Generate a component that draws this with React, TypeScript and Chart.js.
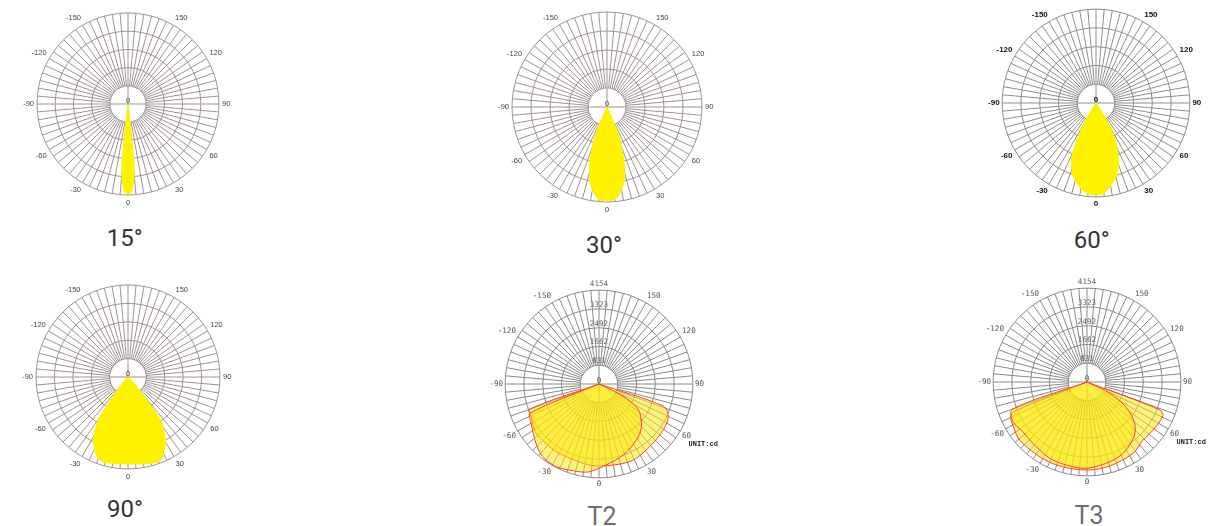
import React, { useEffect, useRef } from 'react';
import { Chart, registerables } from 'chart.js';

Chart.register(...registerables);

// ---------------- data ----------------
const PANEL_TITLES = ['15°', '30°', '60°', '90°', 'T2', 'T3'];

// angle tick labels (one category per degree, 180 at top, clockwise)
const ANGLE_LABELS: number[] = Array.from({ length: 360 }, (_, i) => 180 - i);
const LABELED_ANGLES = [0, 30, 60, 90, 120, 150, -150, -120, -90, -60, -30];
const RING_COUNT = 5;
const BEAM_MAX = 100; // relative intensity, %
const T_MAX_CD = 4154; // cd
const UNIT_TEXT = 'UNIT:cd';

const BEAM15_ANGLES = [-7, -6, -5, -4, -3, -2, -1, 0, 1, 2, 3, 4, 5, 6, 7];
const BEAM15_VALUES = [0, 57, 77, 87, 93, 97, 98.5, 99, 98.5, 97, 93, 87, 77, 57, 0];

const BEAM30_ANGLES = [-25, -23, -20, -17, -13, -9, -5, 0, 5, 9, 13, 17, 20, 23, 25];
const BEAM30_VALUES = [0, 28, 45, 62, 80, 90.5, 97.5, 99, 97.5, 90.5, 80, 62, 45, 28, 0];

const BEAM60_ANGLES = [-34, -31, -28, -26, -23, -17, -10, -5, 0, 4, 8, 15, 21, 25, 29, 32, 34];
const BEAM60_VALUES = [0, 25, 39, 53, 67, 82, 92.5, 97, 98, 97, 92.5, 82, 67, 53, 39, 25, 0];

const BEAM90_ANGLES = [-44, -41, -38, -36, -35, -33, -30, -27, -23, -19, -14, -8, 0, 8, 15, 21, 25, 29, 32, 35, 37, 38, 40, 43, 46];
const BEAM90_VALUES = [0, 10, 26, 42, 55, 64, 74, 82, 90, 95, 96, 95, 94.5, 95.5, 97, 97.5, 91, 84, 76, 66, 60, 48, 30, 13, 0];

const T2_A_ANGLES = [68, 63, 57, 45, 34, 19, 5, -6, -12, -27, -38, -47, -60, -67, -70];
const T2_A_CD = [0, 1199, 2075, 2657, 2977, 3318, 3599, 3900, 3972, 4118, 4064, 3824, 3470, 3313, 0];
const T2_B_ANGLES = [73, 71, 65, 55, 39, 22, 0, -11, -32, -52, -64, -70, -72];
const T2_B_CD = [0, 3012, 3385, 3493, 3568, 3696, 3630, 3581, 3541, 3536, 3332, 3274, 0];

const T3_A_ANGLES = [68, 64, 57, 49, 41, 27, 13, -3, -24, -42, -52, -62, -70, -72];
const T3_A_CD = [0, 1120, 2094, 2794, 3181, 3536, 3700, 3825, 3767, 3620, 3590, 3723, 3510, 0];
const T3_B_ANGLES = [72, 69, 66, 54, 44, 33, 15, 0, -18, -32, -49, -59, -65, -68, -71];
const T3_B_CD = [0, 3455, 3676, 3618, 3572, 3758, 3852, 3896, 3911, 3914, 3937, 3807, 3723, 3500, 0];

// ---------------- styles / layout ----------------
type Style = {
  family: string; size: number; weight: string; color: string; grid: string; pad: number;
};
const THIN: Style = { family: 'Liberation Sans', size: 7.5, weight: 'normal', color: '#444', grid: '#a09292', pad: 3 };
const BOLD: Style = { family: 'Liberation Sans', size: 8, weight: 'bold', color: '#111', grid: '#8e8e8e', pad: 2.5 };
const MONO: Style = { family: 'DejaVu Sans Mono', size: 7.6, weight: 'normal', color: '#555', grid: '#8a8a8a', pad: 2 };

const BEAM_FILL = '#fff100';
const T_FILL = 'rgba(255,232,0,0.5)';
const T_BORDER = 'rgba(255,45,45,0.9)';
const TOP_EXTRA = 14; // extra canvas room above the chart area for ring labels

type Series = { angles: number[]; values: number[] };
type Panel = {
  title: string; cx: number; cy: number; R: number; style: Style; max: number;
  series: Series[]; fill: string; border: string; borderWidth: number; tension: number;
  ringLabels: boolean; unit: string | null;
  tx: number; ty: number; tSize: number; tColor: string;
};

const PANELS: Panel[] = [
  { title: PANEL_TITLES[0], cx: 127.8, cy: 103.8, R: 91, style: THIN, max: BEAM_MAX,
    series: [{ angles: BEAM15_ANGLES, values: BEAM15_VALUES }], fill: BEAM_FILL, border: BEAM_FILL, borderWidth: 1, tension: 0.3,
    ringLabels: false, unit: null, tx: 124.7, ty: 238, tSize: 24, tColor: '#333' },
  { title: PANEL_TITLES[1], cx: 606.7, cy: 107.3, R: 95, style: THIN, max: BEAM_MAX,
    series: [{ angles: BEAM30_ANGLES, values: BEAM30_VALUES }], fill: BEAM_FILL, border: BEAM_FILL, borderWidth: 1, tension: 0.3,
    ringLabels: false, unit: null, tx: 604, ty: 244.5, tSize: 24, tColor: '#333' },
  { title: PANEL_TITLES[2], cx: 1095.7, cy: 103.3, R: 93.8, style: BOLD, max: BEAM_MAX,
    series: [{ angles: BEAM60_ANGLES, values: BEAM60_VALUES }], fill: BEAM_FILL, border: BEAM_FILL, borderWidth: 1, tension: 0.3,
    ringLabels: false, unit: null, tx: 1091.7, ty: 239.2, tSize: 24, tColor: '#333' },
  { title: PANEL_TITLES[3], cx: 127.5, cy: 377.3, R: 92, style: THIN, max: BEAM_MAX,
    series: [{ angles: BEAM90_ANGLES, values: BEAM90_VALUES }], fill: BEAM_FILL, border: BEAM_FILL, borderWidth: 1, tension: 0.3,
    ringLabels: false, unit: null, tx: 125, ty: 509, tSize: 24, tColor: '#333' },
  { title: PANEL_TITLES[4], cx: 599.3, cy: 384.3, R: 93.5, style: MONO, max: T_MAX_CD,
    series: [{ angles: T2_A_ANGLES, values: T2_A_CD }, { angles: T2_B_ANGLES, values: T2_B_CD }],
    fill: T_FILL, border: T_BORDER, borderWidth: 1, tension: 0.3,
    ringLabels: true, unit: UNIT_TEXT, tx: 602, ty: 516, tSize: 25, tColor: '#6e6e6e' },
  { title: PANEL_TITLES[5], cx: 1087.3, cy: 382, R: 93.5, style: MONO, max: T_MAX_CD,
    series: [{ angles: T3_A_ANGLES, values: T3_A_CD }, { angles: T3_B_ANGLES, values: T3_B_CD }],
    fill: T_FILL, border: T_BORDER, borderWidth: 1, tension: 0.3,
    ringLabels: true, unit: UNIT_TEXT, tx: 1089, ty: 515, tSize: 25, tColor: '#6e6e6e' },
];

function toRadar(angles: number[], values: number[]): (number | null)[] {
  const arr: (number | null)[] = new Array(ANGLE_LABELS.length).fill(null);
  angles.forEach((a, k) => {
    const idx = (((180 - a) % 360) + 360) % 360;
    arr[idx] = values[k];
  });
  return arr;
}

const polarDecor = {
  id: 'polarDecor',
  beforeDatasetsDraw(chart: any, _args: any, o: any) {
    const s = chart.scales.r;
    const ctx = chart.ctx;
    const r1 = s.getDistanceFromCenterForValue(s.ticks[1].value);
    ctx.save();
    ctx.beginPath();
    ctx.arc(s.xCenter, s.yCenter, r1 - 0.6, 0, Math.PI * 2);
    ctx.fillStyle = '#ffffff';
    ctx.fill();
    ctx.strokeStyle = o.grid;
    ctx.lineWidth = 1;
    ctx.beginPath();
    ctx.moveTo(s.xCenter - r1, s.yCenter);
    ctx.lineTo(s.xCenter + r1, s.yCenter);
    ctx.moveTo(s.xCenter, s.yCenter - r1);
    ctx.lineTo(s.xCenter, s.yCenter + r1);
    ctx.stroke();
    ctx.restore();
  },
  afterDatasetsDraw(chart: any, _args: any, o: any) {
    const s = chart.scales.r;
    const ctx = chart.ctx;
    ctx.save();
    ctx.font = o.font;
    ctx.fillStyle = o.color;
    ctx.textAlign = 'center';
    ctx.textBaseline = 'middle';
    ctx.fillText('0', s.xCenter, s.yCenter - 3);
    if (o.ringLabels) {
      ctx.fillStyle = '#666';
      const n = s.ticks.length;
      s.ticks.forEach((t: any, i: number) => {
        if (i === 0) return;
        const d = s.getDistanceFromCenterForValue(t.value);
        ctx.fillText(String(Math.round(t.value)), s.xCenter, s.yCenter - d - (i === n - 1 ? 6 : 4));
      });
    }
    if (o.unit) {
      ctx.font = 'bold 7px "Liberation Mono"';
      ctx.fillStyle = '#222';
      ctx.textAlign = 'left';
      ctx.fillText(o.unit, s.xCenter + 89.5, s.yCenter + 60.7);
    }
    ctx.restore();
  },
};

function PolarPanel({ p }: { p: Panel }) {
  const ref = useRef<HTMLCanvasElement>(null);
  const st = p.style;
  const lh = 1.2 * st.size;
  const D = Math.round(p.R + st.pad + lh);
  const half = D + 30;
  const W = 2 * half;
  const H = 2 * D + TOP_EXTRA;
  const left = Math.round(p.cx - half);
  const top = Math.round(p.cy - (TOP_EXTRA + D - Math.ceil(lh / 2)));

  useEffect(() => {
    if (!ref.current) return;
    const fontStr = `${st.weight} ${st.size}px "${st.family}"`;
    const chart = new Chart(ref.current, {
      type: 'radar',
      data: {
        labels: ANGLE_LABELS,
        datasets: p.series.map((s) => ({
          data: toRadar(s.angles, s.values),
          spanGaps: true,
          fill: 'start',
          backgroundColor: p.fill,
          borderColor: p.border,
          borderWidth: p.borderWidth,
          pointRadius: 0,
          pointHoverRadius: 0,
          pointHitRadius: 0,
          tension: p.tension,
        })) as any,
      },
      options: {
        responsive: false,
        animation: false,
        events: [],
        layout: { padding: { top: TOP_EXTRA, left: 0, right: 0, bottom: 0 } },
        plugins: {
          legend: { display: false },
          tooltip: { enabled: false },
          polarDecor: { grid: st.grid, font: fontStr, color: st.color, ringLabels: p.ringLabels, unit: p.unit },
        } as any,
        scales: {
          r: {
            min: 0,
            max: p.max,
            ticks: { display: false, stepSize: p.max / RING_COUNT },
            grid: { circular: true, color: st.grid, lineWidth: 1 },
            angleLines: {
              display: true,
              color: st.grid,
              lineWidth: (c: any) => (c.index % 5 === 0 ? 1 : 0),
            },
            pointLabels: {
              display: true,
              padding: st.pad,
              color: st.color,
              font: { family: st.family, size: st.size, weight: st.weight as any },
              callback: (label: any) => (LABELED_ANGLES.includes(Number(label)) ? String(label) : ([] as any)),
            },
          },
        } as any,
      },
      plugins: [polarDecor as any],
    });
    return () => chart.destroy();
  }, []);

  return (
    <canvas
      ref={ref}
      width={W}
      height={H}
      style={{ position: 'absolute', left, top, width: W, height: H }}
    />
  );
}

export default function App() {
  return (
    <div
      style={{
        position: 'absolute', left: 0, top: 0, width: 1214, height: 526,
        overflow: 'hidden', background: '#ffffff',
      }}
    >
      {PANELS.map((p) => (
        <PolarPanel key={p.title} p={p} />
      ))}
      {PANELS.map((p) => (
        <div
          key={'t' + p.title}
          style={{
            position: 'absolute',
            left: p.tx - 60,
            top: p.ty - (p.tSize === 25 ? 14.2 : 13.7),
            width: 120,
            textAlign: 'center',
            fontFamily: 'Roboto, "Liberation Sans", sans-serif',
            fontSize: p.tSize,
            lineHeight: p.tSize === 25 ? '29px' : '28px',
            color: p.tColor,
            whiteSpace: 'nowrap',
          }}
        >
          {p.title}
        </div>
      ))}
    </div>
  );
}
